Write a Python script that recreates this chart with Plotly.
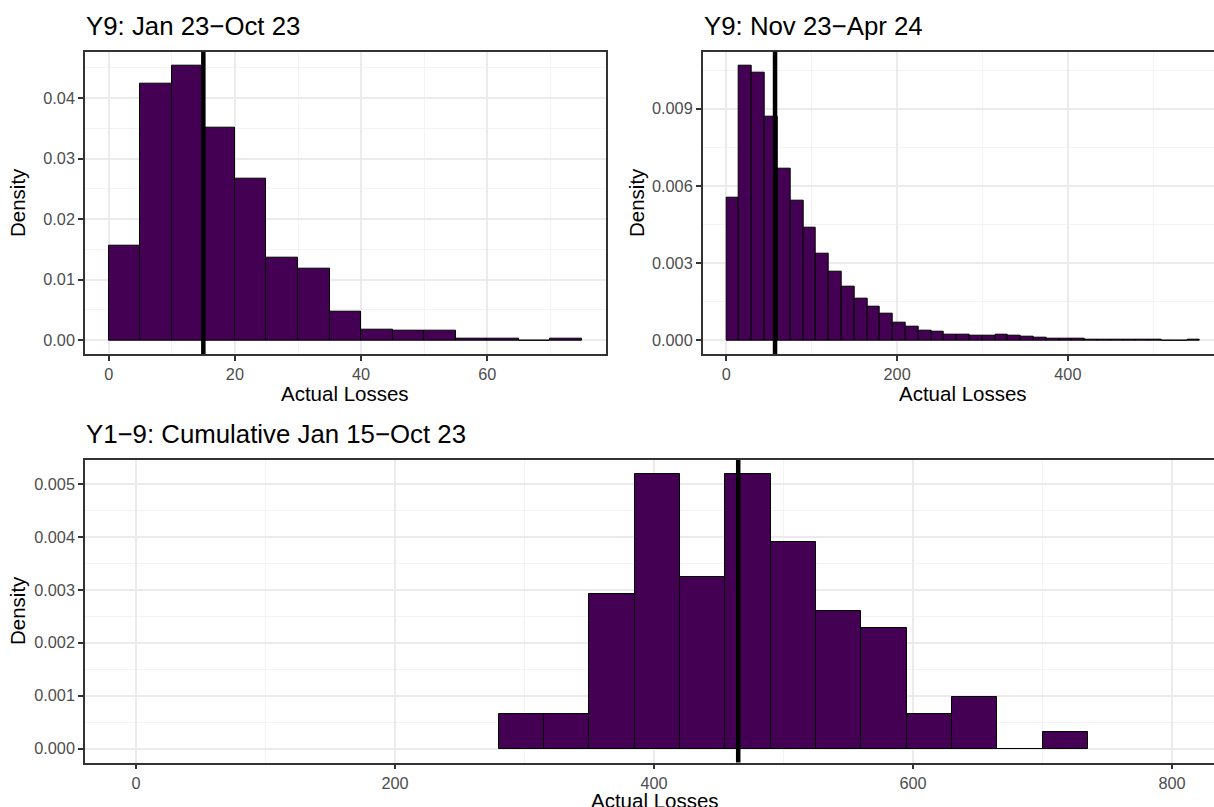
import plotly.graph_objects as go

# ---------------- data ----------------
# Panel 1: Y9: Jan 23-Oct 23 (binwidth 5)
p1_bin_left = [0, 5, 10, 15, 20, 25, 30, 35, 40, 45, 50, 55, 60, 65, 70]
p1_density = [0.01554, 0.04241, 0.04536, 0.03513, 0.02659, 0.01363, 0.01176,
              0.00471, 0.00175, 0.00153, 0.00153, 0.00027, 0.00027, 0.0, 0.00027]
p1_binwidth = 5
p1_marker = 15

# Panel 2: Y9: Nov 23-Apr 24 (binwidth 15)
p2_bin_left = [0, 15, 30, 45, 60, 75, 90, 105, 120, 135, 150, 165, 180, 195, 210,
               225, 240, 255, 270, 285, 300, 315, 330, 345, 360, 375, 390, 405,
               420, 435, 450, 465, 480, 495, 510, 525, 540]
p2_density = [0.00554, 0.01068, 0.01040, 0.00867, 0.00665, 0.00541, 0.00436,
              0.00337, 0.00268, 0.00207, 0.00161, 0.00131, 0.00104, 0.00070,
              0.00053, 0.00038, 0.00032, 0.00022, 0.00022, 0.00017, 0.00017,
              0.00021, 0.00018, 0.00013, 0.00010, 0.00008, 0.00008, 0.00005,
              0.00003, 0.00003, 0.00002, 0.00002, 0.00002, 0.00002, 0.0, 0.0,
              0.000007]
p2_binwidth = 15
p2_marker = 57

# Panel 3: Y1-9: Cumulative Jan 15-Oct 23 (binwidth 35)
p3_bin_left = [280, 315, 350, 385, 420, 455, 490, 525, 560, 595, 630, 665, 700]
p3_density = [0.00065, 0.00065, 0.00292, 0.00519, 0.00325, 0.00519, 0.00390,
              0.00260, 0.00227, 0.00065, 0.00097, 0.0, 0.00032]
p3_binwidth = 35
p3_marker = 465

titles = ["Y9: Jan 23\u2212Oct 23", "Y9: Nov 23\u2212Apr 24",
          "Y1\u22129: Cumulative Jan 15\u2212Oct 23"]
x_title = "Actual Losses"
y_title = "Density"

# ---------------- styling ----------------
W, H = 1214, 807
FONT = "Liberation Sans, Arial, Helvetica, sans-serif"
FILL = "#440154"
GRID = "#EBEBEB"
MINOR = "#F3F3F3"
DARK = "#333333"
TICKTXT = "#4D4D4D"


def px_x(p):
    return p / W


def px_y(p):
    return 1 - p / H


fig = go.Figure()

panels = [
    (p1_bin_left, p1_density, p1_binwidth, "x", "y"),
    (p2_bin_left, p2_density, p2_binwidth, "x2", "y2"),
    (p3_bin_left, p3_density, p3_binwidth, "x3", "y3"),
]
for left, dens, bw, xa, ya in panels:
    fig.add_trace(go.Bar(
        x=[l + bw / 2 for l in left], y=dens, width=[bw] * len(left),
        marker=dict(color=FILL, line=dict(color="black", width=1)),
        xaxis=xa, yaxis=ya, showlegend=False, hoverinfo="x+y"))

for xa, yd, val in [("x", "y domain", p1_marker), ("x2", "y2 domain", p2_marker),
                    ("x3", "y3 domain", p3_marker)]:
    fig.add_shape(type="line", xref=xa, yref=yd, x0=val, x1=val, y0=0, y1=1,
                  line=dict(color="black", width=4.5), layer="above")


def xaxis(domain, rng, dtick, minor_dtick, anchor):
    return dict(domain=domain, range=rng, anchor=anchor, tick0=0, dtick=dtick,
                showgrid=True, gridcolor=GRID, gridwidth=1.7, zeroline=False,
                showline=True, linecolor=DARK, linewidth=1.5, mirror=True,
                ticks="outside", ticklen=5, tickwidth=1.7, tickcolor=DARK,
                tickfont=dict(family=FONT, size=16.3, color=TICKTXT),
                minor=dict(dtick=minor_dtick, tick0=0, showgrid=True,
                           gridcolor=MINOR, gridwidth=1, ticks=""),
                fixedrange=True)


def yaxis(domain, rng, dtick, minor_dtick, anchor, fmt, mirror):
    return dict(domain=domain, range=rng, anchor=anchor, tick0=0, dtick=dtick,
                tickformat=fmt,
                showgrid=True, gridcolor=GRID, gridwidth=1.7, zeroline=False,
                showline=True, linecolor=DARK, linewidth=1.5, mirror=mirror,
                ticks="outside", ticklen=5, tickwidth=1.7, tickcolor=DARK,
                tickfont=dict(family=FONT, size=16.3, color=TICKTXT),
                minor=dict(dtick=minor_dtick, tick0=0, showgrid=True,
                           gridcolor=MINOR, gridwidth=1, ticks=""),
                fixedrange=True)


top_y = [px_y(354), px_y(51.7)]
bot_y = [px_y(762.5), px_y(460)]

fig.update_layout(
    width=W, height=H,
    margin=dict(l=0, r=0, t=0, b=0),
    paper_bgcolor="white", plot_bgcolor="white",
    bargap=0,
    font=dict(family=FONT),
    xaxis=xaxis([px_x(85), px_x(605.7)], [-3.75, 78.75], 20, 10, "y"),
    yaxis=yaxis(top_y, [-0.002268, 0.047628], 0.01, 0.005, "x", ".2f", True),
    xaxis2=xaxis([px_x(702.7), 1.0], [-27.75, 571.2], 200, 100, "y2"),
    yaxis2=yaxis(top_y, [-0.000534, 0.011214], 0.003, 0.0015, "x2", ".3f", False),
    xaxis3=xaxis([px_x(85), 1.0], [-39.4, 832.4], 200, 100, "y3"),
    yaxis3=yaxis(bot_y, [-0.00026, 0.00545], 0.001, 0.0005, "x3", ".3f", False),
)

# titles
ann = []
for txt, xp, yp in [(titles[0], 84, 26), (titles[1], 702, 26), (titles[2], 84, 434)]:
    ann.append(dict(text=txt, x=px_x(xp), y=px_y(yp), xref="paper", yref="paper",
                    xanchor="left", yanchor="middle", showarrow=False,
                    font=dict(family=FONT, size=25.8, color="black")))
# x axis titles
for xp, yp in [(345.3, 394), (963.3, 394), (654.5, 800)]:
    ann.append(dict(text=x_title, x=px_x(xp), y=px_y(yp), xref="paper", yref="paper",
                    xanchor="center", yanchor="middle", showarrow=False,
                    font=dict(family=FONT, size=20.5, color="black")))
# y axis titles
for xp, yp in [(17, 203), (636, 203), (17, 611)]:
    ann.append(dict(text=y_title, x=px_x(xp), y=px_y(yp), xref="paper", yref="paper",
                    xanchor="center", yanchor="middle", showarrow=False, textangle=-90,
                    font=dict(family=FONT, size=20.5, color="black")))
fig.update_layout(annotations=ann)

fig.write_html(
    "out.html",
    config={"displayModeBar": False},
    post_script="document.body.style.margin='0';document.body.style.overflow='hidden';",
)
